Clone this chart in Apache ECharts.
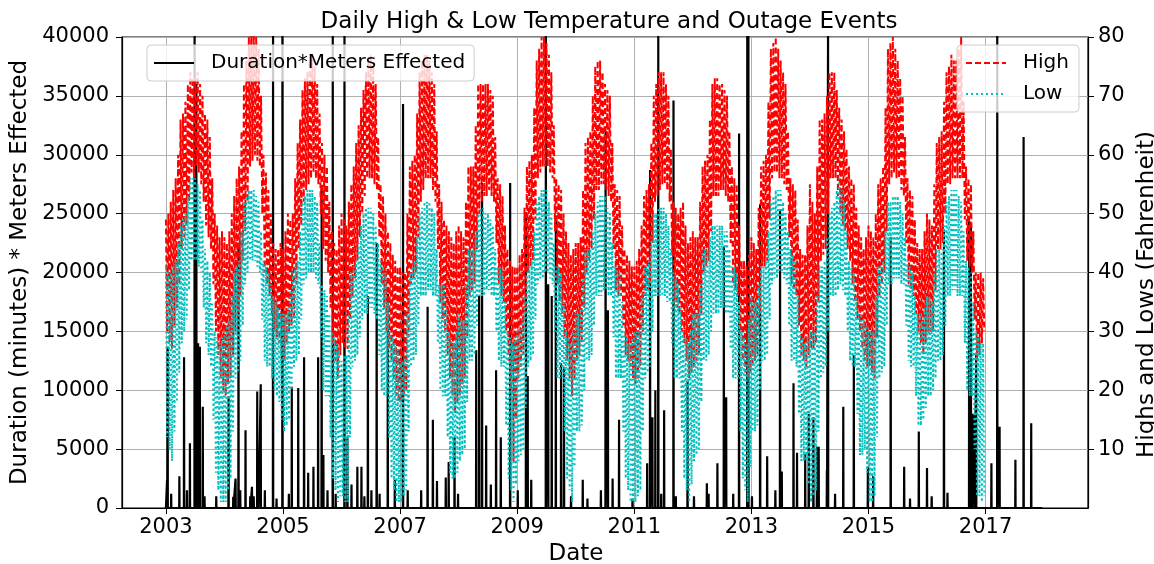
<!DOCTYPE html>
<html>
<head>
<meta charset="utf-8">
<script src="https://cdn.jsdelivr.net/npm/echarts@6/dist/echarts.min.js"></script>
<style>
html, body { margin: 0; background: #fff; }
#chart { width: 1154px; height: 564px; }
</style>
</head>
<body>
<div id="chart"></div>
<script>
// x axis in decimal years
const xTicks = [2003, 2005, 2007, 2009, 2011, 2013, 2015, 2017];
const tempStartYear = 2003;
const samplesPerYear = 48; // four readings a month

// daily highs (F), top/bottom of the noisy band
const highTemps = [
  49,30,50,28, 52,27,54,31, 56,34,60,38, 66,44,67,46, 69,48,72,52, 74,57,73,56, 73,58,74,57, 72,55,70,52, 67,48,66,46, 63,44,56,38, 50,30,48,26, 46,22,47,20, // 2003
  46,19,45,21, 47,22,50,26, 53,30,56,33, 58,36,64,42, 72,47,76,52, 80,58,81,59, 82,60,80,59, 78,58,70,50, 60,40,57,38, 54,36,50,33, 45,30,44,29, 44,28,45,26, // 2004
  44,25,47,28, 50,30,49,31, 50,32,56,38, 62,44,66,48, 71,52,73,54, 74,55,76,56, 77,57,75,56, 72,55,67,50, 62,44,60,42, 58,40,52,34, 47,28,45,25, 44,22,48,26, // 2005
  50,28,49,27, 48,27,52,32, 55,36,58,39, 62,42,65,46, 68,50,71,53, 74,56,76,56, 77,56,75,55, 72,54,63,46, 55,38,53,34, 50,30,47,27, 45,25,43,22, 42,19,41,18, // 2006
  41,18,40,19, 40,20,50,29, 58,38,59,39, 60,40,67,46, 74,52,76,54, 77,56,77,56, 76,56,74,54, 72,52,64,44, 55,35,52,32, 49,30,48,26, 47,22,46,19, 45,16,47,18, // 2007
  48,19,47,21, 46,22,52,29, 58,36,58,37, 58,38,65,44, 72,50,72,52, 72,53,72,53, 72,54,71,53, 70,52,63,45, 56,38,55,36, 53,35,48,30, 44,25,42,20, 41,8,41,15,  // 2008
  41,22,43,24, 44,26,51,33, 58,40,59,41, 60,42,68,49, 76,56,78,57, 80,58,80,58, 79,58,77,57, 74,56,65,47, 56,38,55,35, 54,33,50,29, 47,25,45,22, 43,19,44,22, // 2009
  45,25,45,26, 46,28,54,34, 62,40,63,42, 64,44,70,49, 75,54,76,54, 76,55,74,55, 72,54,71,53, 70,52,62,44, 55,37,54,36, 53,36,48,31, 44,26,43,25, 42,24,41,22, // 2010
  41,21,42,22, 44,24,48,30, 53,36,54,37, 55,38,62,45, 70,52,72,53, 74,54,74,55, 74,55,72,54, 70,52,61,43, 52,35,51,34, 50,33,51,30, 52,28,48,25, 45,22,46,23, // 2011
  47,24,46,25, 46,26,52,33, 58,40,59,41, 60,42,66,47, 72,53,73,53, 73,53,72,54, 72,54,71,53, 70,52,64,45, 58,38,56,37, 55,36,48,30, 42,25,42,23, 41,22,43,23, // 2012
  46,24,45,25, 44,26,51,33, 58,41,59,41, 60,42,69,49, 78,56,79,57, 80,57,78,56, 76,56,74,55, 72,54,64,46, 56,38,55,37, 54,36,49,31, 44,26,43,25, 43,24,48,26, // 2013
  55,27,52,27, 50,28,58,35, 66,42,66,43, 67,44,70,50, 74,56,74,56, 74,56,71,53, 68,50,66,48, 64,47,61,44, 58,42,56,38, 55,35,51,32, 48,30,46,27, 44,25,46,24, // 2014
  48,24,47,23, 46,22,50,29, 55,36,56,38, 58,40,68,47, 78,55,79,56, 80,57,78,56, 76,56,73,54, 70,53,63,45, 56,38,54,37, 53,36,49,33, 45,30,44,28, 44,26,47,28, // 2015
  50,30,49,30, 48,30,55,37, 62,44,63,44, 64,45,69,50, 74,55,75,55, 77,56,76,56, 76,56,78,56, 80,56,69,49, 58,42,56,41, 55,40,47,32, 40,25,40,26, 40,28,39,30  // 2016
];

// daily lows (F), same sampling
const lowTemps = [
  41,12,40,10, 40,8,41,13,  42,18,45,23, 48,28,49,30, 50,32,53,37, 56,42,56,42, 56,42,55,41, 54,40,49,34, 44,28,42,26, 40,24,35,15, 30,6,29,3,   28,1,29,1,  // 2003
  30,1,31,3,   32,5,36,13,  40,22,41,23, 42,25,47,31, 52,38,53,40, 54,42,54,42, 54,42,53,41, 52,40,47,32, 42,25,41,24, 40,24,38,22, 36,20,35,19, 34,18,33,15, // 2004
  33,13,33,14, 34,15,37,20, 40,24,41,25, 42,26,47,32, 52,38,53,39, 54,40,54,40, 54,40,53,39, 52,38,45,29, 38,20,37,19, 36,19,33,12, 30,5,29,3,   28,1,27,2,  // 2005
  25,2,26,1,   26,1,33,12,  40,24,41,25, 42,26,45,29, 48,32,50,33, 51,33,51,34, 51,34,50,33, 48,32,45,26, 42,20,41,19, 40,19,35,12, 30,5,29,3,   28,1,27,1,  // 2006
  25,1,25,2,   26,3,33,13,  40,24,41,25, 42,26,46,31, 50,36,51,36, 52,36,52,37, 52,37,51,36, 50,36,44,28, 38,20,38,19, 38,19,34,12, 30,6,29,5,   28,5,30,6,  // 2007
  33,8,32,9,   32,10,38,18, 44,25,44,25, 44,26,47,31, 50,36,51,36, 51,36,50,37, 50,37,49,36, 48,36,44,30, 41,25,41,24, 40,24,35,14, 30,5,29,3,   28,1,29,4,  // 2008
  30,8,31,9,   32,10,36,17, 40,24,41,25, 42,26,47,32, 52,38,53,39, 54,39,54,40, 54,40,52,39, 50,38,45,30, 41,22,41,22, 40,22,35,13, 30,5,29,3,   28,1,30,7,  // 2009
  33,13,33,13, 34,14,39,20, 44,25,44,25, 44,26,47,31, 50,36,52,36, 53,36,53,37, 53,37,51,36, 50,36,45,29, 41,22,41,22, 40,22,35,13, 30,5,29,3,   28,1,29,1,  // 2010
  30,1,30,2,   30,3,36,13,  41,22,41,23, 42,24,46,30, 50,36,50,36, 51,36,51,36, 51,36,50,35, 48,35,44,28, 40,22,39,22, 38,22,34,13, 30,5,29,3,   28,1,30,4,  // 2011
  33,8,33,9,   33,10,38,18, 44,25,44,25, 44,26,46,30, 48,33,48,33, 48,33,48,34, 48,34,47,33, 47,33,44,27, 41,22,41,22, 40,22,35,13, 30,5,29,3,   28,1,32,7,  // 2012
  36,13,35,13, 35,14,38,20, 41,25,41,25, 42,26,47,32, 52,38,53,39, 54,39,54,40, 54,40,52,39, 50,38,47,31, 44,25,43,25, 42,24,36,16, 30,8,29,8,   28,8,29,4,  // 2013
  30,1,30,2,   30,3,36,13,  41,22,41,23, 42,24,46,30, 50,36,51,36, 52,36,54,37, 56,38,54,37, 52,36,47,30, 42,25,41,24, 40,24,36,16, 33,9,33,9,   32,10,31,6, // 2014
  30,1,30,1,   30,2,36,12,  41,22,41,23, 42,24,47,31, 52,38,52,38, 53,39,53,39, 53,39,52,38, 50,38,46,31, 42,25,41,24, 40,24,36,19, 33,14,33,14, 32,15,34,17, // 2015
  36,19,36,19, 35,20,40,22, 44,25,44,25, 44,26,48,31, 52,36,53,36, 54,37,54,37, 54,36,53,36, 52,36,47,28, 42,20,41,19, 40,19,35,10, 30,2,29,2,   28,1,28,2   // 2016
];

// outage events: date (decimal year) and duration*meters; zero on all other days
const outageStart = 2003.0;
const outageEnd = 2017.97;
const outageDates = [
  2003.02, 2003.03, 2003.09, 2003.23, 2003.31, 2003.36, 2003.41, 2003.49, 2003.52, 2003.55,
  2003.58, 2003.63, 2003.66, 2003.86, 2004.07, 2004.15, 2004.19, 2004.24, 2004.27, 2004.36,
  2004.44, 2004.47, 2004.50, 2004.56, 2004.58, 2004.62, 2004.69, 2004.83, 2004.89, 2004.99,
  2005.10, 2005.15, 2005.26, 2005.36, 2005.43, 2005.52, 2005.60, 2005.66, 2005.69, 2005.76,
  2005.85, 2005.90, 2006.05, 2006.10, 2006.17, 2006.27, 2006.34, 2006.39, 2006.45, 2006.51,
  2006.60, 2006.65, 2006.79, 2006.91, 2007.05, 2007.13, 2007.36, 2007.47, 2007.56, 2007.63,
  2007.78, 2007.83, 2007.93, 2007.99, 2008.30, 2008.35, 2008.40, 2008.47, 2008.55, 2008.64,
  2008.72, 2008.88, 2009.01, 2009.15, 2009.18, 2009.24, 2009.49, 2009.53, 2009.59, 2009.66,
  2009.75, 2009.80, 2009.92, 2010.12, 2010.20, 2010.43, 2010.51, 2010.55, 2010.63, 2010.74,
  2010.97, 2011.22, 2011.27, 2011.31, 2011.36, 2011.41, 2011.46, 2011.51, 2011.67, 2011.71,
  2011.91, 2012.02, 2012.24, 2012.27, 2012.42, 2012.53, 2012.57, 2012.69, 2012.79, 2012.93,
  2012.95, 2013.01, 2013.15, 2013.27, 2013.41, 2013.49, 2013.52, 2013.72, 2013.78, 2013.92,
  2013.98, 2014.06, 2014.12, 2014.15, 2014.29, 2014.31, 2014.43, 2014.57, 2014.75, 2014.99,
  2015.08, 2015.38, 2015.61, 2015.71, 2015.86, 2016.00, 2016.08, 2016.29, 2016.35, 2016.72,
  2016.75, 2016.77, 2016.81, 2016.84, 2017.10, 2017.20, 2017.24, 2017.51, 2017.65, 2017.78
];
const outageValues = [
  2400, 13700, 1200, 2700, 12800, 1500, 5500, 41000, 36000, 14000,
  13700, 8600, 1000, 1000, 9500, 950, 2500, 22500, 1500, 6600,
  1000, 1800, 1000, 9900, 4400, 10500, 1500, 41000, 800, 41000,
  1200, 10300, 10200, 12800, 3000, 3500, 12800, 27000, 4500, 1500,
  41000, 1200, 41000, 6000, 2000, 3500, 3500, 1000, 18000, 1500,
  22500, 1200, 18200, 2400, 34300, 1500, 1500, 17100, 7500, 2300,
  2600, 3900, 6000, 1200, 13400, 18000, 27600, 7000, 2000, 11700,
  6000, 27600, 1500, 25000, 11200, 2400, 41000, 19000, 18000, 24500,
  12300, 12000, 1000, 2400, 800, 1500, 32000, 16800, 2500, 7500,
  800, 3800, 28700, 7700, 10000, 41000, 1200, 8300, 34600, 1000,
  10800, 1000, 2100, 1200, 3800, 22200, 9400, 1200, 31800, 41000,
  41000, 1000, 25800, 4400, 1500, 25300, 3100, 10600, 4700, 4600,
  8000, 7700, 5200, 5200, 3200, 41000, 1200, 8600, 13000, 3500,
  2700, 23000, 3500, 800, 6500, 3400, 1000, 23500, 1300, 24300,
  24000, 8000, 8000, 13100, 3800, 41000, 6900, 4100, 31500, 7200
];

const font = 'DejaVu Sans';

// each event is one day tall, the line sits on zero in between
const outageLine = [[outageStart, 0]];
outageDates.forEach(function (d, i) {
    outageLine.push([d - 0.003, 0], [d, outageValues[i]], [d + 0.003, 0]);
});
outageLine.push([outageEnd, 0]);

const highLine = highTemps.map(function (v, i) { return [tempStartYear + i / samplesPerYear, v]; });
const lowLine = lowTemps.map(function (v, i) { return [tempStartYear + i / samplesPerYear, v]; });

var chart = echarts.init(document.getElementById('chart'));

var legendBase = {
    itemWidth: 40,
    itemHeight: 14,
    backgroundColor: 'rgba(255,255,255,0.8)',
    borderColor: '#cccccc',
    borderWidth: 1,
    borderRadius: 4,
    itemStyle: { opacity: 0 },
    textStyle: { fontFamily: font, fontSize: 20, color: '#000', padding: [0, 0, 0, 12] }
};

chart.setOption({
    animation: false,
    backgroundColor: '#fff',
    textStyle: { fontFamily: font, color: '#000' },
    title: {
        text: 'Daily High & Low Temperature and Outage Events',
        left: 604,
        textAlign: 'center',
        top: 6,
        textStyle: { fontFamily: font, fontSize: 23, fontWeight: 'normal', color: '#000' }
    },
    legend: [
        Object.assign({}, legendBase, {
            data: ['Duration*Meters Effected'],
            left: 147,
            top: 45,
            padding: [8, 9, 8, 6]
        }),
        Object.assign({}, legendBase, {
            data: ['High', 'Low'],
            orient: 'vertical',
            left: 957,
            top: 45,
            itemGap: 11,
            padding: [8, 10, 8, 8]
        })
    ],
    grid: {
        left: 122, right: 66, top: 37, bottom: 56,
        outerBoundsMode: 'none',
        containLabel: false,
        show: true, borderColor: '#000', borderWidth: 1.2, backgroundColor: 'transparent'
    },
    xAxis: {
        type: 'value',
        min: 2002.25,
        max: 2018.75,
        name: 'Date',
        nameLocation: 'middle',
        nameGap: 34,
        nameTextStyle: { fontFamily: font, fontSize: 23, color: '#000', padding: [0, 58, 0, 0] },
        axisLine: { show: true, lineStyle: { color: '#000', width: 1.2 } },
        axisTick: { show: true, inside: false, length: 6, customValues: xTicks, lineStyle: { color: '#000' } },
        axisLabel: { customValues: xTicks, fontFamily: font, fontSize: 21, color: '#000', margin: 9,
            formatter: function (v) { return String(v); } },
        splitLine: { show: true, lineStyle: { color: '#b0b0b0', width: 1 } }
    },
    yAxis: [
        {
            type: 'value',
            min: 0,
            max: 40000,
            interval: 5000,
            name: 'Duration (minutes) * Meters Effected',
            nameLocation: 'middle',
            nameRotate: 90,
            nameGap: 84,
            nameTextStyle: { fontFamily: font, fontSize: 23, color: '#000' },
            axisLine: { show: true, lineStyle: { color: '#000', width: 1.2 } },
            axisTick: { show: true, inside: false, length: 6, lineStyle: { color: '#000' } },
            axisLabel: { fontFamily: font, fontSize: 21, color: '#000', margin: 13,
                formatter: function (v) { return String(v); } },
            splitLine: { show: true, lineStyle: { color: '#b0b0b0', width: 1 } }
        },
        {
            type: 'value',
            position: 'right',
            min: 0,
            max: 80,
            interval: 10,
            name: 'Highs and Lows (Fahrenheit)',
            nameLocation: 'middle',
            nameRotate: 90,
            nameGap: 33,
            nameTextStyle: { fontFamily: font, fontSize: 23, color: '#000', padding: [0, 44, 0, 0] },
            axisLine: { show: true, lineStyle: { color: '#000', width: 1.2 } },
            axisTick: { show: true, inside: false, length: 6, lineStyle: { color: '#000' } },
            axisLabel: { fontFamily: font, fontSize: 21, color: '#000', margin: 10, showMinLabel: false },
            splitLine: { show: false }
        }
    ],
    series: [
        {
            name: 'Duration*Meters Effected',
            type: 'line',
            yAxisIndex: 0,
            data: outageLine,
            symbol: 'none',
            lineStyle: { color: '#000', width: 2.2 },
            itemStyle: { color: '#000' },
            z: 2
        },
        {
            name: 'High',
            type: 'line',
            yAxisIndex: 1,
            data: highLine,
            symbol: 'none',
            lineStyle: { color: '#ff0000', width: 2, type: [6, 3] },
            itemStyle: { color: '#ff0000' },
            z: 3
        },
        {
            name: 'Low',
            type: 'line',
            yAxisIndex: 1,
            data: lowLine,
            symbol: 'none',
            lineStyle: { color: '#00bfbf', width: 2, type: [2, 3] },
            itemStyle: { color: '#00bfbf' },
            z: 4
        }
    ]
});
</script>
</body>
</html>
